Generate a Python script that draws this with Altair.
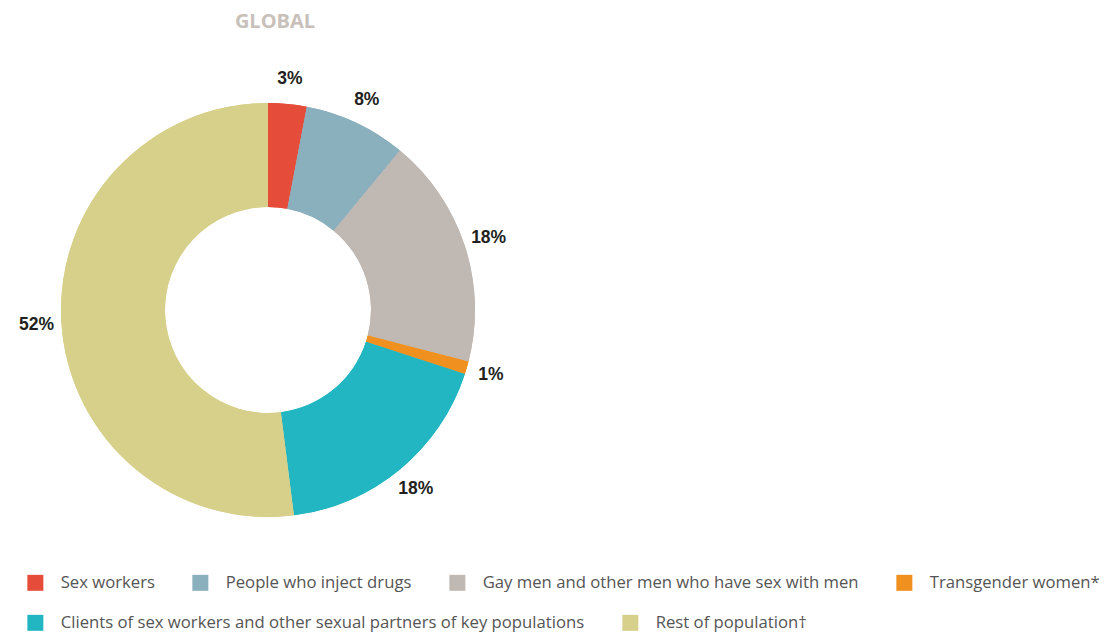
import altair as alt
import pandas as pd

categories = [
    "Sex workers",
    "People who inject drugs",
    "Gay men and other men who have sex with men",
    "Transgender women*",
    "Clients of sex workers and other sexual partners of key populations",
    "Rest of population\u2020",
]
shares = [3, 8, 18, 1, 18, 52]
colors = ["#E64C3A", "#8AAFBD", "#C0B8B2", "#F0901E", "#22B6C2", "#D6D08A"]
title_text = "GLOBAL"

df = pd.DataFrame({
    "group": categories,
    "share": shares,
    "order": list(range(len(categories))),
    "label": [f"{v}%" for v in shares],
})

CX, CY = 260, 302

base = alt.Chart(df).encode(
    theta=alt.Theta("share:Q", stack=True),
    order=alt.Order("order:Q"),
)


def legend(values, y):
    return alt.Legend(
        title=None,
        orient="none",
        legendX=19,
        legendY=y,
        direction="horizontal",
        values=values,
        symbolType="square",
        symbolSize=256,
        symbolStrokeWidth=0,
        labelFont="Open Sans",
        labelFontSize=16.7,
        labelColor="#555555",
        labelLimit=700,
        labelOffset=17,
        columnPadding=37,
        padding=0,
    )


def arcs(values, y):
    return base.mark_arc(outerRadius=207, innerRadius=103).encode(
        x=alt.value(CX),
        y=alt.value(CY),
        color=alt.Color(
            "group:N",
            scale=alt.Scale(domain=categories, range=colors),
            legend=legend(values, y),
        ),
    )


arcs_a = arcs(categories[:4], 566)
arcs_b = arcs(categories[4:], 606)

labels = base.mark_text(
    radius=232, font="Liberation Sans", fontWeight="bold", fontSize=17.5, color="#231F20"
).encode(
    x=alt.value(CX),
    y=alt.value(CY),
    text="label:N",
)

title = alt.Chart(pd.DataFrame({"t": [title_text]})).mark_text(
    font="Open Sans", fontWeight="bold", fontSize=20, color="#C8C0BA"
).encode(
    x=alt.value(267),
    y=alt.value(14),
    text="t:N",
)

chart = alt.layer(arcs_a, arcs_b, labels, title).resolve_scale(
    color="independent"
).properties(
    width=1094,
    height=626,
    autosize=alt.AutoSizeParams(type="none"),
    padding=0,
).configure_view(stroke=None)

chart.save("out.html", embed_options={"renderer": "svg", "actions": False})
